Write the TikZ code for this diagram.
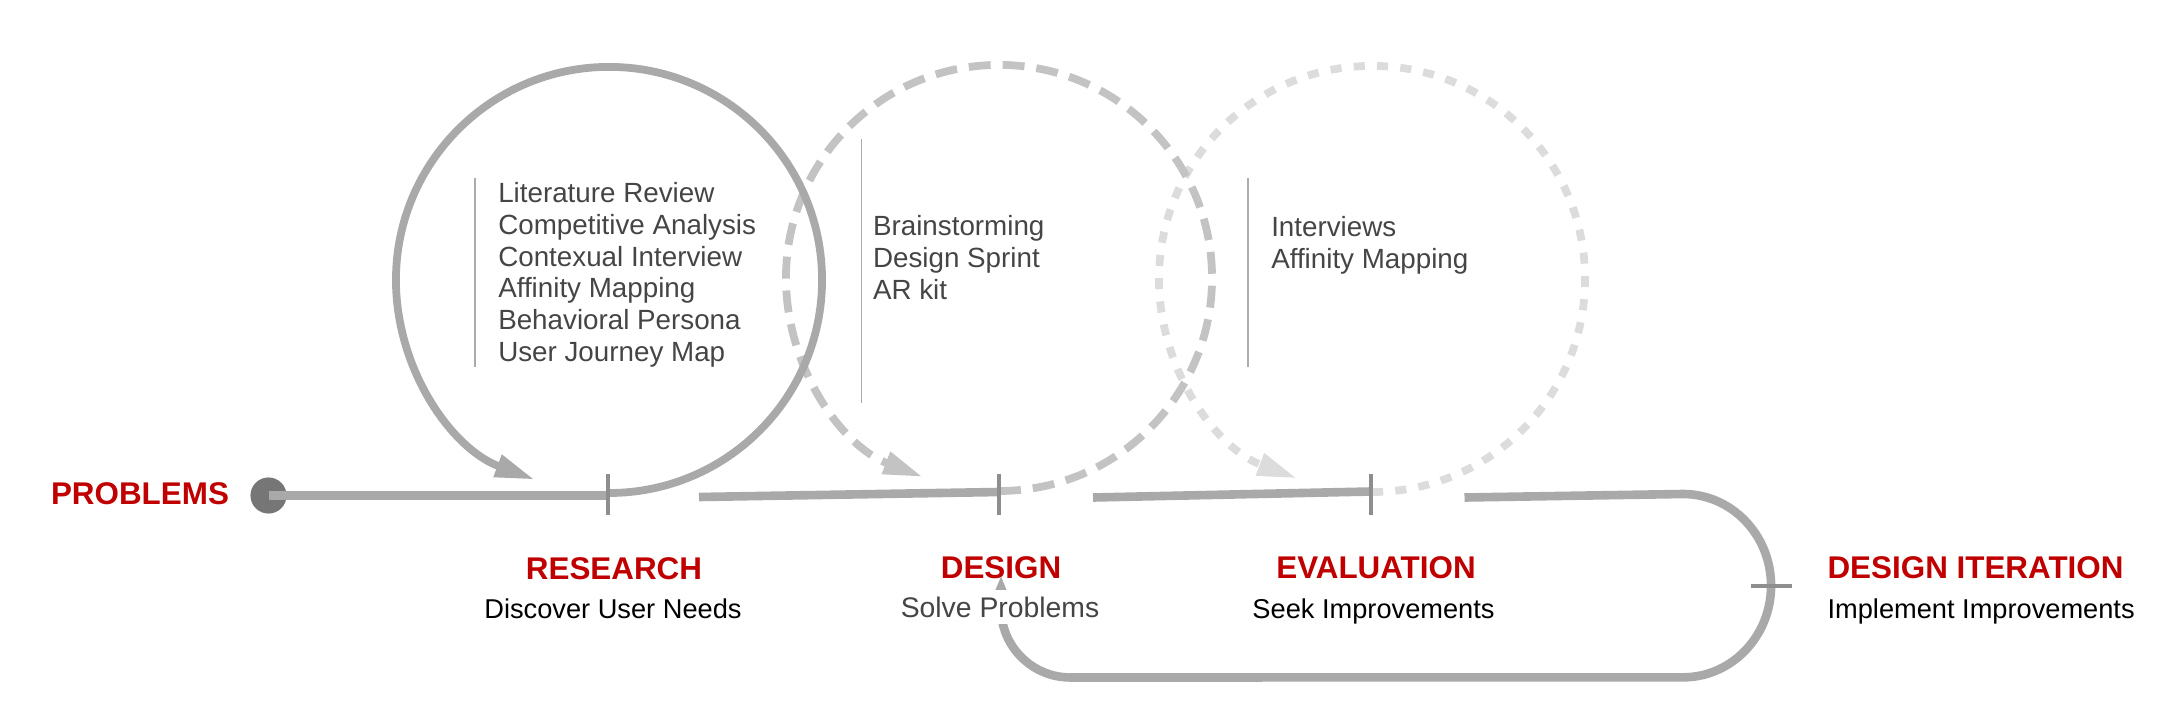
\documentclass[tikz,border=0pt]{standalone}
\usepackage{fontspec}
\setmainfont{Liberation Sans}
\usetikzlibrary{arrows.meta}
\definecolor{linegray}{HTML}{A9A9A9}
\definecolor{dashgray}{HTML}{C3C3C3}
\definecolor{dotgray}{HTML}{DCDCDC}
\definecolor{tickgray}{HTML}{8E8E8E}
\definecolor{dotfill}{HTML}{767676}
\definecolor{headred}{HTML}{C00000}
\definecolor{listgray}{HTML}{454545}
\definecolor{rulegray}{HTML}{ABABAB}
\begin{document}
\begin{tikzpicture}[x=0.36pt,y=0.36pt,
  mainline/.style={draw=linegray,line width=3.1pt},
  solidloop/.style={draw=linegray,line width=2.8pt,-{Triangle[length=14.3pt,width=7.9pt]}},
  dashloop/.style={draw=dashgray,line width=2.8pt,dash pattern=on 7.9pt off 4.3pt,-{Triangle[length=14.3pt,width=7.9pt]}},
  dotloop/.style={draw=dotgray,line width=2.8pt,dash pattern=on 4pt off 4.4pt,-{Triangle[length=14.3pt,width=7.9pt]}},
  tickmark/.style={draw=tickgray,line width=1.3pt},
  rulemark/.style={draw=rulegray,line width=0.7pt},
  head/.style={text=headred,font=\bfseries\fontsize{11.3}{13}\selectfont,inner sep=0pt},
  sub/.style={text=black,font=\fontsize{9.8}{12}\selectfont,inner sep=0pt},
  listtext/.style={text=listgray,font=\fontsize{10}{11.45}\selectfont,align=left,inner sep=0pt,anchor=north west}
]
\useasboundingbox (0,0) rectangle (2178,-728);

% points on the main line
\node[circle,fill=dotfill,minimum size=13pt,inner sep=0pt] (start) at (268.5,-495.5) {};
\coordinate (t1) at (608,-495.5);
\coordinate (s2) at (699,-497);
\coordinate (t2) at (999,-492);
\coordinate (s3) at (1093,-497.5);
\coordinate (t3) at (1371,-491.5);
\coordinate (s4) at (1464.5,-497.5);
\coordinate (r4) at (1683,-494);
\coordinate (c1) at (609,-493);
\coordinate (c2) at (999,-491);
\coordinate (c3) at (1372,-492);
\coordinate (lc) at (1001,-677.5);
\coordinate (back) at (1001,-576);

% loops
\draw[dotloop] (c3) arc[start angle=-90,end angle=249.4,radius=76.7pt];
\draw[dashloop] (c2) arc[start angle=-90,end angle=249.1,radius=76.7pt];
\draw[solidloop] (c1) arc[start angle=-90,end angle=249.6,radius=76.7pt];

% main line
\draw[mainline] (start.center) -- (t1);
\draw[mainline] (s2) -- (t2);
\draw[mainline] (s3) -- (t3);
\draw[mainline,-{Triangle[length=5pt,width=3.6pt]}] (s4) -- (r4)
  arc[start angle=90,end angle=-90,x radius=31.7pt,y radius=33pt]
  [rounded corners=25pt] -- (lc) -- (back);

% ticks
\draw[tickmark] (608,-474) -- (608,-515);
\draw[tickmark] (999,-474) -- (999,-515);
\draw[tickmark] (1371,-474) -- (1371,-515);
\draw[tickmark] (1751,-585.7) -- (1792,-585.7);

% rules
\draw[rulemark] (474.7,-178.3) -- (474.7,-366.7);
\draw[rulemark] (861.5,-139) -- (861.5,-403);
\draw[rulemark] (1248,-178.3) -- (1248,-366.7);

% lists
\node[listtext] (list1) at (497.7,-181.8) {Literature Review\\Competitive Analysis\\Contexual Interview\\Affinity Mapping\\Behavioral Persona\\User Journey Map};
\node[listtext] (list2) at (872.5,-215.1) {Brainstorming\\Design Sprint\\AR kit};
\node[listtext] (list3) at (1270.7,-215.8) {Interviews\\Affinity Mapping};

% labels
\node[head,anchor=base] (problems) at (140,-504) {PROBLEMS};
\node[head,anchor=base] (research) at (614,-579) {RESEARCH};
\node[sub,anchor=base] (researchsub) at (613,-618) {Discover User Needs};
\node[head,anchor=base] (design) at (1001,-578) {DESIGN};
\node[sub,anchor=base,fill=white,text=listgray,font=\fontsize{10.2}{12}\selectfont,inner xsep=1pt,inner ysep=2.5pt] (designsub) at (1000,-617) {Solve Problems};
\node[head,anchor=base] (evaluation) at (1376,-578) {EVALUATION};
\node[sub,anchor=base] (evalsub) at (1373.5,-618) {Seek Improvements};
\node[head,anchor=base west] (iteration) at (1827,-578) {DESIGN ITERATION};
\node[sub,anchor=base west] (itersub) at (1827,-618) {Implement Improvements};
\end{tikzpicture}
\end{document}
